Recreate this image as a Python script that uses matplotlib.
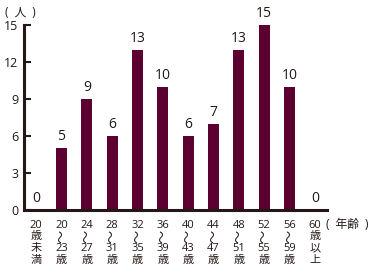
import numpy as np
import matplotlib.pyplot as plt

plt.rcParams['font.family'] = ['Open Sans', 'Noto Sans CJK JP', 'DejaVu Sans']

# 年齢区分ごとの人数
labels = [["20", "歳", "未", "満"], ["20", "~", "23", "歳"], ["24", "~", "27", "歳"],
          ["28", "~", "31", "歳"], ["32", "~", "35", "歳"], ["36", "~", "39", "歳"],
          ["40", "~", "43", "歳"], ["44", "~", "47", "歳"], ["48", "~", "51", "歳"],
          ["52", "~", "55", "歳"], ["56", "~", "59", "歳"], ["60", "歳", "以", "上"]]
counts = [0, 5, 9, 6, 13, 10, 6, 7, 13, 15, 10, 0]
yticks = [0, 3, 6, 9, 12, 15]

bar_color = '#5c0032'
ink = '#231815'

fig = plt.figure(figsize=(3.78, 2.65), dpi=100)
ax = fig.add_axes([0.0635, 0.2075, 0.8016, 0.698])

x = np.arange(len(counts))
ax.bar(x, counts, width=0.43, color=bar_color)

for xi, c in zip(x, counts):
    ax.annotate(str(c), (xi, c), xytext=(0, 3), textcoords='offset points',
                ha='center', va='bottom', fontsize=10, color=ink)

# 縦書きの年齢ラベル
for xi, lines in zip(x, labels):
    for k, t in enumerate(lines):
        y_off = -10.8 - 8.4 * k
        if t == "~":
            ax.annotate("〜", (xi, 0), xycoords=('data', 'axes fraction'),
                        xytext=(0, y_off), textcoords='offset points',
                        ha='center', va='center', fontsize=9.5, rotation=90,
                        color=ink, family='Noto Sans CJK JP')
        else:
            ax.annotate(t, (xi, 0), xycoords=('data', 'axes fraction'),
                        xytext=(0, y_off), textcoords='offset points',
                        ha='center', va='center', fontsize=8, color=ink)

ax.set_xlim(-0.48, 11.48)
ax.set_ylim(0, 15)
ax.set_yticks(yticks)
ax.set_xticks([])
ax.tick_params(axis='y', direction='in', length=5, width=1.5, color=ink,
               labelsize=9, labelcolor=ink, pad=4)

for s in ['top', 'right']:
    ax.spines[s].set_visible(False)
for s in ['left', 'bottom']:
    ax.spines[s].set_linewidth(2.2)
    ax.spines[s].set_color(ink)

fig.text(0.012, 0.978, "(  人  )", fontsize=8.5, va='top', ha='left', color=ink)
fig.text(0.862, 0.178, "(  年齢  )", fontsize=8.5, va='top', ha='left', color=ink)

fig.savefig('out.png', dpi=100)
